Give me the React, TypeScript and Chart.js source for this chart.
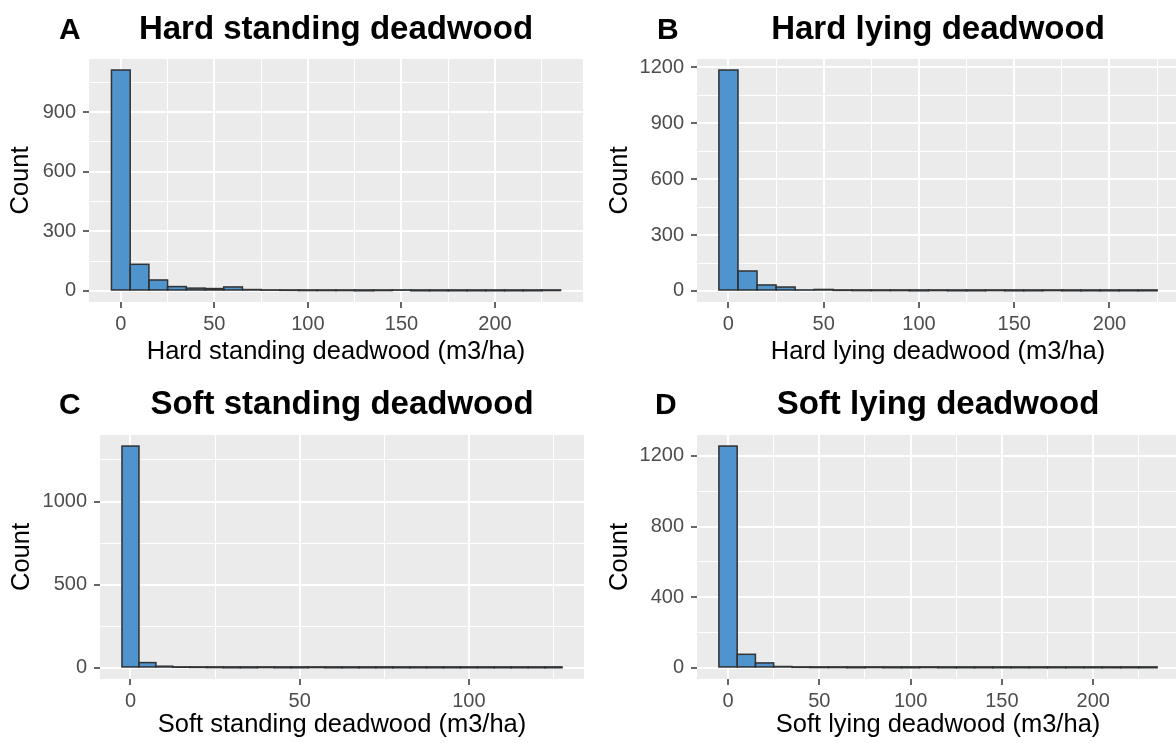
import React, { useEffect, useRef } from 'react';
import { Chart, registerables } from 'chart.js';

Chart.register(...registerables);

const FONT = '"Liberation Sans", Arial, Helvetica, sans-serif';

// ---------- Data ----------
// A: Hard standing deadwood (bin width 10)
const hardStandingCenters = [0, 10, 20, 30, 40, 50, 60, 70, 80, 90, 100, 110, 120, 130, 140, 150, 160, 170, 180, 190, 200, 210, 220, 230];
const hardStandingCounts = [1111, 134, 55, 22, 14, 12, 20, 7, 4, 3, 2, 2, 2, 1, 2, 4, 1, 1, 1, 1, 1, 1, 1, 2];
const hardStandingXTicks = [0, 50, 100, 150, 200];
const hardStandingYTicks = [0, 300, 600, 900];

// B: Hard lying deadwood (bin width 10)
const hardLyingCenters = [0, 10, 20, 30, 40, 50, 60, 70, 80, 90, 100, 110, 120, 130, 140, 150, 160, 170, 180, 190, 200, 210, 220];
const hardLyingCounts = [1186, 107, 32, 21, 5, 8, 3, 2, 2, 2, 1, 2, 1, 1, 2, 1, 1, 2, 1, 1, 1, 1, 1];
const hardLyingXTicks = [0, 50, 100, 150, 200];
const hardLyingYTicks = [0, 300, 600, 900, 1200];

// C: Soft standing deadwood (bin width 5)
const softStandingCenters = [0, 5, 10, 15, 20, 25, 30, 35, 40, 45, 50, 55, 60, 65, 70, 75, 80, 85, 90, 95, 100, 105, 110, 115, 120, 125];
const softStandingCounts = [1333, 32, 10, 4, 3, 2, 1, 1, 2, 1, 1, 2, 1, 1, 1, 1, 1, 1, 1, 1, 1, 1, 1, 1, 1, 1];
const softStandingXTicks = [0, 50, 100];
const softStandingYTicks = [0, 500, 1000];

// D: Soft lying deadwood (bin width 10)
const softLyingCenters = [0, 10, 20, 30, 40, 50, 60, 70, 80, 90, 100, 110, 120, 130, 140, 150, 160, 170, 180, 190, 200, 210, 220, 230];
const softLyingCounts = [1256, 77, 28, 8, 3, 2, 2, 1, 2, 1, 1, 2, 1, 1, 1, 1, 1, 1, 1, 1, 1, 1, 1, 1];
const softLyingXTicks = [0, 50, 100, 150, 200];
const softLyingYTicks = [0, 400, 800, 1200];

// ---------- Panels ----------
interface PanelSpec {
  tag: string;
  title: string;
  xTitle: string;
  centers: number[];
  counts: number[];
  xTicks: number[];
  yTicks: number[];
  binWidth: number;
  box: { left: number; top: number; width: number; height: number };
  padTop: number;
  padRight: number;
  yAxisWidth: number;
  xAxisHeight: number;
  tagX: number;
  textBaseline: number;
  yTitlePad: number;
  xTitlePad: number;
}

const panels: PanelSpec[] = [
  {
    tag: 'A', title: 'Hard standing deadwood', xTitle: 'Hard standing deadwood (m3/ha)',
    centers: hardStandingCenters, counts: hardStandingCounts, xTicks: hardStandingXTicks, yTicks: hardStandingYTicks, binWidth: 10,
    box: { left: 0, top: 0, width: 590, height: 372 }, padTop: 59, padRight: 7, yAxisWidth: 89, xAxisHeight: 70,
    tagX: 59, textBaseline: 39, yTitlePad: 6, xTitlePad: 5,
  },
  {
    tag: 'B', title: 'Hard lying deadwood', xTitle: 'Hard lying deadwood (m3/ha)',
    centers: hardLyingCenters, counts: hardLyingCounts, xTicks: hardLyingXTicks, yTicks: hardLyingYTicks, binWidth: 10,
    box: { left: 590, top: 0, width: 590, height: 372 }, padTop: 59, padRight: 1, yAxisWidth: 107, xAxisHeight: 70,
    tagX: 67, textBaseline: 39, yTitlePad: 15, xTitlePad: 5,
  },
  {
    tag: 'C', title: 'Soft standing deadwood', xTitle: 'Soft standing deadwood (m3/ha)',
    centers: softStandingCenters, counts: softStandingCounts, xTicks: softStandingXTicks, yTicks: softStandingYTicks, binWidth: 5,
    box: { left: 0, top: 372, width: 590, height: 371 }, padTop: 63, padRight: 6, yAxisWidth: 100, xAxisHeight: 64,
    tagX: 59, textBaseline: 42, yTitlePad: 7, xTitlePad: 3,
  },
  {
    tag: 'D', title: 'Soft lying deadwood', xTitle: 'Soft lying deadwood (m3/ha)',
    centers: softLyingCenters, counts: softLyingCounts, xTicks: softLyingXTicks, yTicks: softLyingYTicks, binWidth: 10,
    box: { left: 590, top: 372, width: 590, height: 371 }, padTop: 63, padRight: 1, yAxisWidth: 107, xAxisHeight: 64,
    tagX: 65, textBaseline: 42, yTitlePad: 15, xTitlePad: 3,
  },
];

function withMinors(majors: number[], lo: number, hi: number): number[] {
  const step = majors[1] - majors[0];
  const all = new Set<number>(majors);
  majors.forEach((m) => {
    [m - step / 2, m + step / 2].forEach((v) => {
      if (v >= lo && v <= hi) all.add(v);
    });
  });
  return Array.from(all).sort((a, b) => a - b);
}

function Panel({ spec }: { spec: PanelSpec }) {
  const ref = useRef<HTMLCanvasElement | null>(null);

  useEffect(() => {
    if (!ref.current) return;
    const lo = spec.centers[0] - spec.binWidth / 2;
    const hi = spec.centers[spec.centers.length - 1] + spec.binWidth / 2;
    const xPad = (hi - lo) * 0.05;
    const xMin = lo - xPad;
    const xMax = hi + xPad;
    const yTop = Math.max(...spec.counts);
    const yMin = -yTop * 0.05;
    const yMax = yTop * 1.05;
    const xAll = withMinors(spec.xTicks, xMin, xMax);
    const yAll = withMinors(spec.yTicks, yMin, yMax);
    const isMajorX = (c: any) => !!(c && c.tick && spec.xTicks.includes(c.tick.value));
    const isMajorY = (c: any) => !!(c && c.tick && spec.yTicks.includes(c.tick.value));

    const ggPlugin = {
      id: 'ggStyle',
      beforeDraw(chart: any) {
        const { ctx, chartArea: a } = chart;
        ctx.save();
        ctx.fillStyle = '#EBEBEB';
        ctx.fillRect(a.left, a.top, a.right - a.left, a.bottom - a.top);
        ctx.restore();
      },
      afterDatasetsDraw(chart: any) {
        const { ctx } = chart;
        const meta = chart.getDatasetMeta(0);
        ctx.save();
        ctx.strokeStyle = '#333333';
        ctx.lineWidth = 1.5;
        meta.data.forEach((el: any) => {
          const p = el.getProps(['x', 'y', 'base', 'width'], true);
          ctx.strokeRect(p.x - p.width / 2, p.y, p.width, p.base - p.y);
        });
        ctx.restore();
      },
      afterDraw(chart: any) {
        const { ctx, chartArea: a } = chart;
        ctx.save();
        ctx.fillStyle = '#000000';
        ctx.textBaseline = 'alphabetic';
        ctx.font = `bold 33px ${FONT}`;
        ctx.textAlign = 'center';
        ctx.fillText(spec.title, (a.left + a.right) / 2, spec.textBaseline);
        ctx.font = `bold 30px ${FONT}`;
        ctx.textAlign = 'left';
        ctx.fillText(spec.tag, spec.tagX, spec.textBaseline);
        ctx.restore();
      },
    };

    const chart = new Chart(ref.current, {
      type: 'bar',
      data: {
        datasets: [
          {
            data: spec.centers.map((c, i) => ({ x: c, y: spec.counts[i] })),
            backgroundColor: '#4F94CD',
            borderWidth: 0,
            barPercentage: 1,
            categoryPercentage: 1,
          } as any,
        ],
      },
      options: {
        responsive: false,
        animation: false,
        devicePixelRatio: 1,
        layout: { padding: { top: spec.padTop, right: spec.padRight, left: 0, bottom: 0 } },
        plugins: { legend: { display: false }, tooltip: { enabled: false }, title: { display: false } },
        scales: {
          x: {
            type: 'linear',
            min: xMin,
            max: xMax,
            offset: false,
            border: { display: false },
            afterBuildTicks: (s: any) => {
              s.ticks = xAll.map((v) => ({ value: v }));
            },
            afterFit: (s: any) => {
              s.height = spec.xAxisHeight;
            },
            grid: {
              offset: false,
              color: '#FFFFFF',
              lineWidth: (c: any) => (isMajorX(c) ? 2 : 1),
              drawTicks: true,
              tickLength: 6,
              tickWidth: 1.5,
              tickColor: (c: any) => (isMajorX(c) ? '#333333' : 'rgba(0,0,0,0)'),
            },
            ticks: {
              autoSkip: false,
              maxRotation: 0,
              padding: 4,
              color: '#4D4D4D',
              font: { family: FONT, size: 20 },
              callback: (v: any) => (spec.xTicks.includes(Number(v)) ? String(v) : ''),
            },
            title: {
              display: true,
              text: spec.xTitle,
              color: '#000000',
              font: { family: FONT, size: 25.5 },
              padding: { top: 0, bottom: spec.xTitlePad },
            },
          },
          y: {
            type: 'linear',
            min: yMin,
            max: yMax,
            border: { display: false },
            afterBuildTicks: (s: any) => {
              s.ticks = yAll.map((v) => ({ value: v }));
            },
            afterFit: (s: any) => {
              s.width = spec.yAxisWidth;
            },
            grid: {
              offset: false,
              color: '#FFFFFF',
              lineWidth: (c: any) => (isMajorY(c) ? 2 : 1),
              drawTicks: true,
              tickLength: 6,
              tickWidth: 1.5,
              tickColor: (c: any) => (isMajorY(c) ? '#333333' : 'rgba(0,0,0,0)'),
            },
            ticks: {
              autoSkip: false,
              padding: 7,
              color: '#4D4D4D',
              font: { family: FONT, size: 20 },
              callback: (v: any) => (spec.yTicks.includes(Number(v)) ? String(v) : ''),
            },
            title: {
              display: true,
              text: 'Count',
              color: '#000000',
              font: { family: FONT, size: 25.5 },
              padding: { top: spec.yTitlePad, bottom: 0 },
            },
          },
        },
      } as any,
      plugins: [ggPlugin as any],
    });
    return () => chart.destroy();
  }, [spec]);

  return (
    <canvas
      ref={ref}
      width={spec.box.width}
      height={spec.box.height}
      style={{
        position: 'absolute',
        left: spec.box.left,
        top: spec.box.top,
        width: spec.box.width,
        height: spec.box.height,
      }}
    />
  );
}

export default function App() {
  return (
    <div
      style={{
        position: 'absolute',
        left: 0,
        top: 0,
        width: 1176,
        height: 743,
        overflow: 'hidden',
        background: '#FFFFFF',
      }}
    >
      {panels.map((p) => (
        <Panel key={p.tag} spec={p} />
      ))}
    </div>
  );
}
